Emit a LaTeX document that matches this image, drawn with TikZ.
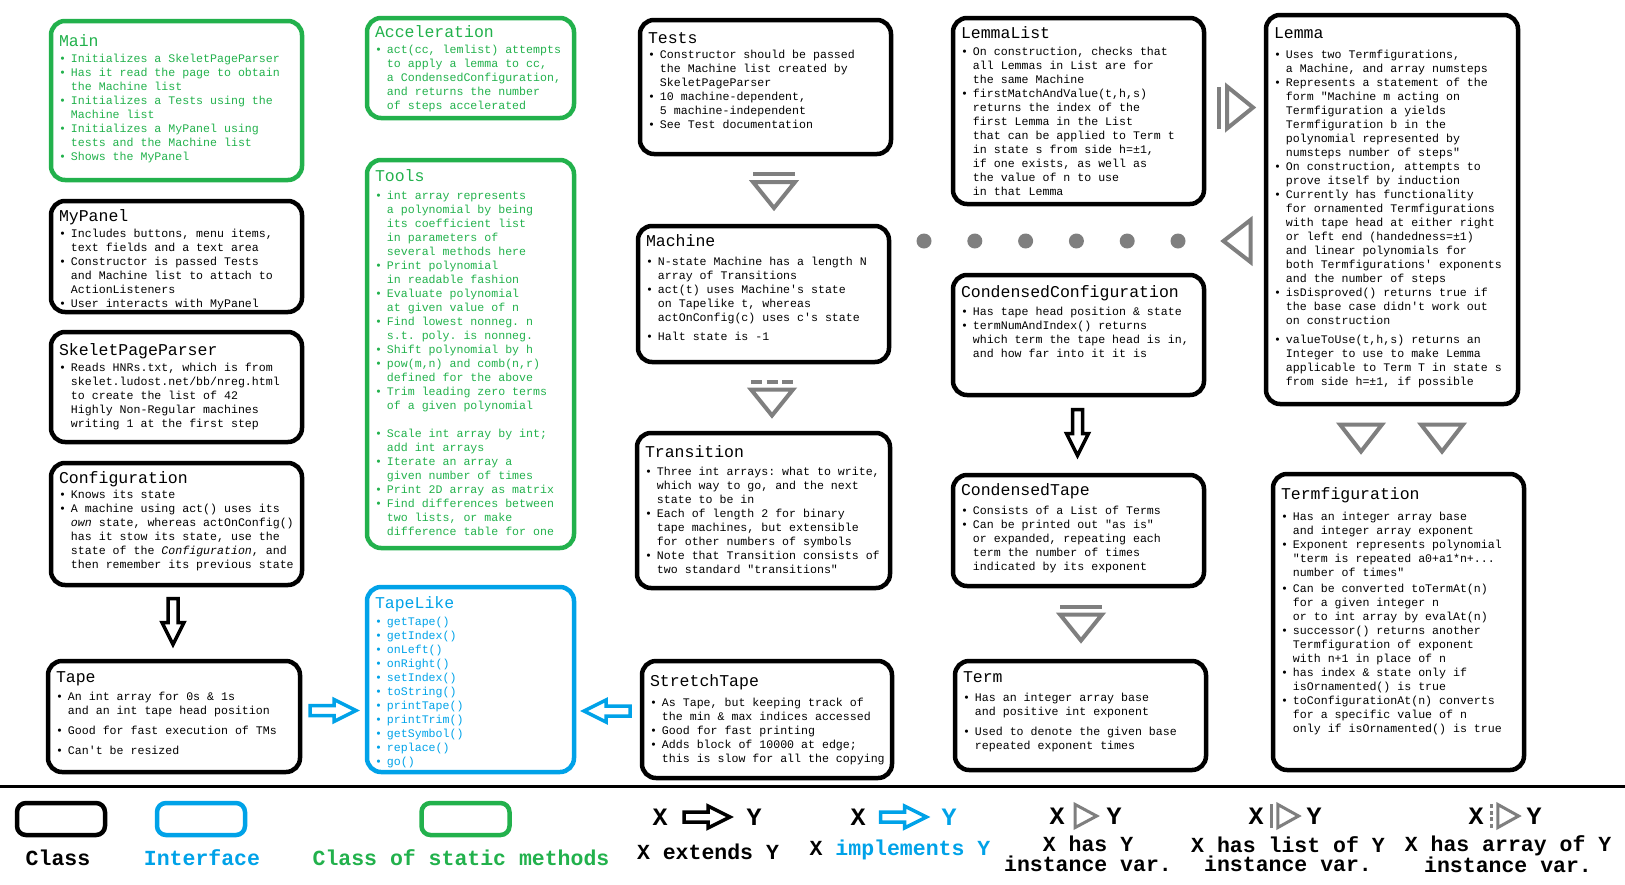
\documentclass[tikz,border=0pt]{standalone}
\usepackage{fontspec}
\setmonofont{Liberation Mono}
\usetikzlibrary{calc}

\definecolor{paintgreen}{RGB}{34,177,76}
\definecolor{paintblue}{RGB}{0,162,232}
\definecolor{hasgray}{RGB}{127,127,127}

\newcommand{\bl}{\textbullet&}
\NewDocumentCommand{\ttl}{O{15} O{2} m}{{\fontsize{16.5}{18}\selectfont\rule{0pt}{#1pt}#3\par}\vspace{#2pt}}
\newcommand{\boxbody}[3]{\parbox[c][\dimexpr#2pt-20pt\relax][t]{\dimexpr#1pt-20pt\relax}{#3}}
\newenvironment{blist}{\begin{tabular}[t]{@{}l@{\hspace{5pt}}l@{}}}{\end{tabular}}

\tikzset{
  cls/.style={draw, line width=4.5pt, rounded corners=14pt, inner xsep=8pt, inner ysep=8pt,
    font=\ttfamily\fontsize{11.6}{14}\selectfont},
  stat/.style={cls, draw=paintgreen, text=paintgreen},
  iface/.style={cls, draw=paintblue, text=paintblue},
  hasline/.style={draw=hasgray, line width=4pt, fill=white},
  hasbar/.style={draw=hasgray, line width=4pt},
  arraydash/.style={dash pattern=on 11pt off 4.5pt},
  legbox/.style={draw, line width=4.5pt, rounded corners=9pt, minimum width=88pt,
    minimum height=32pt, inner sep=0pt},
  legtext/.style={font=\ttfamily\bfseries\fontsize{21.5}{19.5}\selectfont, align=center},
  legxy/.style={font=\ttfamily\bfseries\fontsize{25}{25}\selectfont},
  legsym/.style={rotate=90, xscale=.55, yscale=.8, hasline/.append style={line width=3pt},
    hasbar/.append style={line width=3pt}, arraydash/.style={dash pattern=on 4pt off 2.5pt}},
  blockarrow/.pic={\draw[line width=3.5pt, fill=white] (-5,-23) -- (5,-23) -- (5,1) -- (11,1)
    -- (0,23) -- (-11,1) -- (-5,1) -- cycle;},
  hasone/.pic={\draw[hasline] (-21,-13) -- (21,-13) -- (0,14) -- cycle;},
  haslist/.pic={\draw[hasline] (-21,-9) -- (21,-9) -- (0,17) -- cycle;
    \draw[hasbar] (-21,-17) -- (21,-17);},
  hasarray/.pic={\draw[hasline] (-21,-9) -- (21,-9) -- (0,17) -- cycle;
    \draw[hasbar, arraydash] (-21,-17) -- (21,-17);},
}

\begin{document}
\begin{tikzpicture}[x=1pt, y=-1pt]
  \useasboundingbox (0,0) rectangle (1625,884);

  % Static classes
  \node[stat] (main) at (176.5,100.5) {\boxbody{255}{163}{\ttl[17][2]{Main}
    \begin{blist}
    \bl Initializes a SkeletPageParser\\
    \bl Has it read the page to obtain\\
    & the Machine list\\
    \bl Initializes a Tests using the\\
    & Machine list\\
    \bl Initializes a MyPanel using\\
    & tests and the Machine list\\
    \bl Shows the MyPanel
    \end{blist}}};
  \node[stat] (accel) at (470.5,68) {\boxbody{211}{104}{\ttl[11][2]{Acceleration}
    \begin{blist}
    \bl act(cc, lemlist) attempts\\
    & to apply a lemma to cc,\\
    & a CondensedConfiguration,\\
    & and returns the number\\
    & of steps accelerated
    \end{blist}}};
  \node[stat] (tools) at (470.5,354) {\boxbody{211}{392}{\ttl[13][4]{Tools}
    \begin{blist}
    \bl int array represents\\
    & a polynomial by being\\
    & its coefficient list\\
    & in parameters of\\
    & several methods here\\
    \bl Print polynomial\\
    & in readable fashion\\
    \bl Evaluate polynomial\\
    & at given value of n\\
    \bl Find lowest nonneg. n\\
    & s.t. poly. is nonneg.\\
    \bl Shift polynomial by h\\
    \bl pow(m,n) and comb(n,r)\\
    & defined for the above\\
    \bl Trim leading zero terms\\
    & of a given polynomial\\
    & \\
    \bl Scale int array by int;\\
    & add int arrays\\
    \bl Iterate an array a\\
    & given number of times\\
    \bl Print 2D array as matrix\\
    \bl Find differences between\\
    & two lists, or make\\
    & difference table for one
    \end{blist}}};

  % Interface
  \node[iface] (tapelike) at (470.5,679.5) {\boxbody{211}{189}{\ttl[13][3]{TapeLike}
    \begin{blist}
    \bl getTape()\\
    \bl getIndex()\\
    \bl onLeft()\\
    \bl onRight()\\
    \bl setIndex()\\
    \bl toString()\\
    \bl printTape()\\
    \bl printTrim()\\
    \bl getSymbol()\\
    \bl replace()\\
    \bl go()
    \end{blist}}};

  % Classes
  \node[cls] (mypanel) at (176.5,256.5) {\boxbody{255}{115}{\ttl[12][2]{MyPanel}
    \begin{blist}
    \bl Includes buttons, menu items,\\
    & text fields and a text area\\
    \bl Constructor is passed Tests\\
    & and Machine list to attach to\\
    & ActionListeners\\
    \bl User interacts with MyPanel
    \end{blist}}};
  \node[cls] (parser) at (176.5,387) {\boxbody{255}{114}{\ttl[15][2]{SkeletPageParser}
    \begin{blist}
    \bl Reads HNRs.txt, which is from\\
    & skelet.ludost.net/bb/nreg.html\\
    & to create the list of 42\\
    & Highly Non-Regular machines\\
    & writing 1 at the first step
    \end{blist}}};
  \node[cls] (config) at (176.5,524) {\boxbody{255}{126}{\ttl[12][1]{Configuration}
    \begin{blist}
    \bl Knows its state\\
    \bl A machine using act() uses its\\
    & \textit{own} state, whereas actOnConfig()\\
    & has it stow its state, use the\\
    & state of the \textit{Configuration}, and\\
    & then remember its previous state
    \end{blist}}};
  \node[cls] (tape) at (174,716.5) {\boxbody{256}{115}{\ttl[13][4]{Tape}
    \begin{blist}
    \bl An int array for 0s \& 1s\\
    & and an int tape head position\\[6pt]
    \bl Good for fast execution of TMs\\[6pt]
    \bl Can't be resized
    \end{blist}}};
  \node[cls] (tests) at (765.5,87) {\boxbody{255}{138}{\ttl[15][1]{Tests}
    \begin{blist}
    \bl Constructor should be passed\\
    & the Machine list created by\\
    & SkeletPageParser\\
    \bl 10 machine-dependent,\\
    & 5 machine-independent\\
    \bl See Test documentation
    \end{blist}}};
  \node[cls] (machine) at (763.5,294) {\boxbody{255}{140}{\ttl[12][5]{Machine}
    \begin{blist}
    \bl N-state Machine has a length N\\
    & array of Transitions\\
    \bl act(t) uses Machine's state\\
    & on Tapelike t, whereas\\
    & actOnConfig(c) uses c's state\\[5pt]
    \bl Halt state is -1
    \end{blist}}};
  \node[cls] (transition) at (763.5,510.5) {\boxbody{257}{159}{\ttl[16][4]{Transition}
    \begin{blist}
    \bl Three int arrays: what to write,\\
    & which way to go, and the next\\
    & state to be in\\
    \bl Each of length 2 for binary\\
    & tape machines, but extensible\\
    & for other numbers of symbols\\
    \bl Note that Transition consists of\\
    & two standard "transitions"
    \end{blist}}};
  \node[cls] (stretch) at (767,719.5) {\boxbody{254}{121}{\ttl[17][6]{StretchTape}
    \begin{blist}
    \bl As Tape, but keeping track of\\
    & the min \& max indices accessed\\
    \bl Good for fast printing\\
    \bl Adds block of 10000 at edge;\\
    & this is slow for all the copying
    \end{blist}}};
  \node[cls] (lemmalist) at (1078.5,111) {\boxbody{255}{190}{\ttl[12][3]{LemmaList}
    \begin{blist}
    \bl On construction, checks that\\
    & all Lemmas in List are for\\
    & the same Machine\\
    \bl firstMatchAndValue(t,h,s)\\
    & returns the index of the\\
    & first Lemma in the List\\
    & that can be applied to Term t\\
    & in state s from side h=±1,\\
    & if one exists, as well as\\
    & the value of n to use\\
    & in that Lemma
    \end{blist}}};
  \node[cls] (condconfig) at (1078.5,335) {\boxbody{255}{124}{\ttl[14][4]{CondensedConfiguration}
    \begin{blist}
    \bl Has tape head position \& state\\
    \bl termNumAndIndex() returns\\
    & which term the tape head is in,\\
    & and how far into it it is
    \end{blist}}};
  \node[cls] (condtape) at (1078.5,530.5) {\boxbody{255}{115}{\ttl[12][5]{CondensedTape}
    \begin{blist}
    \bl Consists of a List of Terms\\
    \bl Can be printed out "as is"\\
    & or expanded, repeating each\\
    & term the number of times\\
    & indicated by its exponent
    \end{blist}}};
  \node[cls] (term) at (1080.5,715.5) {\boxbody{255}{113}{\ttl[13][5]{Term}
    \begin{blist}
    \bl Has an integer array base\\
    & and positive int exponent\\[6pt]
    \bl Used to denote the given base\\
    & repeated exponent times
    \end{blist}}};
  \node[cls] (lemma) at (1392,209.5) {\boxbody{256}{393}{\ttl[15][6]{Lemma}
    \begin{blist}
    \bl Uses two Termfigurations,\\
    & a Machine, and array numsteps\\
    \bl Represents a statement of the\\
    & form "Machine m acting on\\
    & Termfiguration a yields\\
    & Termfiguration b in the\\
    & polynomial represented by\\
    & numsteps number of steps"\\
    \bl On construction, attempts to\\
    & prove itself by induction\\
    \bl Currently has functionality\\
    & for ornamented Termfigurations\\
    & with tape head at either right\\
    & or left end (handedness=±1)\\
    & and linear polynomials for\\
    & both Termfigurations' exponents\\
    & and the number of steps\\
    \bl isDisproved() returns true if\\
    & the base case didn't work out\\
    & on construction\\[5pt]
    \bl valueToUse(t,h,s) returns an\\
    & Integer to use to make Lemma\\
    & applicable to Term T in state s\\
    & from side h=±1, if possible
    \end{blist}}};
  \node[cls] (termfig) at (1398.5,622) {\boxbody{255}{300}{\ttl[17][7]{Termfiguration}
    \begin{blist}
    \bl Has an integer array base\\
    & and integer array exponent\\
    \bl Exponent represents polynomial\\
    & "term is repeated a0+a1*n+...\\
    & number of times"\\[2pt]
    \bl Can be converted toTermAt(n)\\
    & for a given integer n\\
    & or to int array by evalAt(n)\\
    \bl successor() returns another\\
    & Termfiguration of exponent\\
    & with n+1 in place of n\\
    \bl has index \& state only if\\
    & isOrnamented() is true\\
    \bl toConfigurationAt(n) converts\\
    & for a specific value of n\\
    & only if isOrnamented() is true
    \end{blist}}};

  % Relation marks
  \coordinate (ext1) at (173,621.5);
  \coordinate (ext2) at (1077.5,432.5);
  \coordinate (imp1) at (333,710.5);
  \coordinate (imp2) at (607,711);
  \coordinate (lst1) at (774,191);
  \coordinate (arr1) at (772,398.5);
  \coordinate (lst2) at (1081,623.5);
  \coordinate (lst3) at (1236,107.5);
  \coordinate (one1) at (1361,437.5);
  \coordinate (one2) at (1442,437.5);
  \coordinate (one3) at (1237.5,241);
  \coordinate (dotA) at (924,241);
  \coordinate (dotB) at (1179,241);

  \pic at (ext1) {blockarrow};
  \pic at (ext2) {blockarrow};
  \pic[rotate=90, color=paintblue] at (imp1) {blockarrow};
  \pic[rotate=-90, color=paintblue] at (imp2) {blockarrow};
  \pic at (lst1) {haslist};
  \pic at (arr1) {hasarray};
  \pic at (lst2) {haslist};
  \pic[rotate=90] at (lst3) {haslist};
  \pic at (one1) {hasone};
  \pic at (one2) {hasone};
  \pic[rotate=-90] at (one3) {hasone};
  \draw[hasgray, line width=15pt, line cap=round, dash pattern=on 0pt off 50.8pt] (dotA) -- (dotB);

  % Legend
  \draw[line width=3pt] (0,786) -- (1625,786);
  \node[legbox] (lgclass) at (61,819) {};
  \node[legbox, draw=paintblue] (lgiface) at (201,819) {};
  \node[legbox, draw=paintgreen] (lgstat) at (465.5,819) {};
  \node[legtext] (lgclasst) at (58,858) {Class};
  \node[legtext, text=paintblue] (lgifacet) at (202,858) {Interface};
  \node[legtext, text=paintgreen] (lgstatt) at (461,858) {Class of static methods};

  \node[legxy] (ex) at (660,817) {X};
  \node[legxy] (ey) at (754,817) {Y};
  \pic[rotate=90] at ($(ex)!.5!(ey)$) {blockarrow};
  \node[legtext] (et) at (708,852) {X extends Y};

  \node[legxy] (ix) at (858,817) {X};
  \node[legxy, text=paintblue] (iy) at (949,817) {Y};
  \pic[rotate=90, color=paintblue] at ($(ix)!.5!(iy)$) {blockarrow};
  \node[legtext] (it) at (900,850) {X \textcolor{paintblue}{implements Y}};

  \node[legxy] (hx) at (1057,816) {X};
  \node[legxy] (hy) at (1114,816) {Y};
  \pic[legsym] at ($(hx)!.5!(hy)$) {hasone};
  \node[legtext] (ht) at (1088,854) {X has Y\\instance var.};

  \node[legxy] (lx) at (1256,816) {X};
  \node[legxy] (ly) at (1314,816) {Y};
  \pic[legsym] at ($(lx)!.5!(ly)$) {haslist};
  \node[legtext] (lt) at (1288,854) {X has list of Y\\instance var.};

  \node[legxy] (ax) at (1476,816) {X};
  \node[legxy] (ay) at (1534,816) {Y};
  \pic[legsym] at ($(ax)!.5!(ay)$) {hasarray};
  \node[legtext] (at) at (1508,854) {X has array of Y\\instance var.};
\end{tikzpicture}
\end{document}
